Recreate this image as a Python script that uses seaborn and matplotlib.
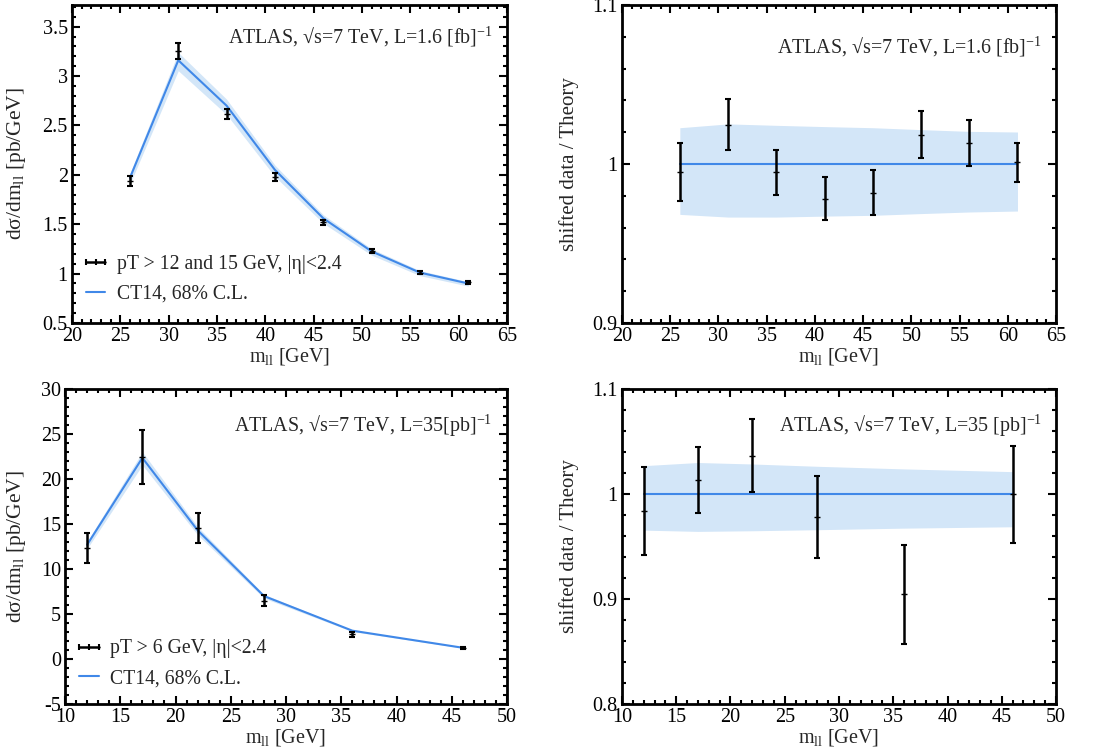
import numpy as np
import pandas as pd
import matplotlib
matplotlib.use("Agg")
import matplotlib.pyplot as plt
import seaborn as sns
from matplotlib.lines import Line2D
from matplotlib.ticker import MultipleLocator

# datos ATLAS 1.6 fb^-1 (arriba)
m_top = [26, 31, 36, 41, 46, 51, 56, 61]
xs_top = [1.94, 3.25, 2.62, 1.98, 1.52, 1.23, 1.01, 0.91]
xs_top_err = [0.05, 0.08, 0.05, 0.04, 0.025, 0.02, 0.015, 0.015]
th_top = [1.97, 3.16, 2.70, 2.05, 1.56, 1.225, 1.01, 0.90]
ratio_top = [0.9947, 1.0247, 0.9947, 0.978, 0.982, 1.0184, 1.0133, 1.001]
ratio_top_err = [0.0182, 0.016, 0.014, 0.0135, 0.0139, 0.0148, 0.0145, 0.0125]
band_top_hi = [1.0228, 1.0252, 1.0243, 1.0235, 1.0228, 1.0216, 1.0205, 1.0201]
band_top_lo = [0.9683, 0.9666, 0.9666, 0.9672, 0.9677, 0.9688, 0.9698, 0.9704]

# datos ATLAS 35 pb^-1 (abajo)
m_bot = [12, 17, 22, 28, 36, 46]
xs_bot = [12.35, 22.5, 14.55, 6.5, 2.75, 1.2]
xs_bot_err = [1.7, 3.0, 1.7, 0.65, 0.3, 0.1]
th_bot = [12.7, 22.35, 14.3, 7.0, 3.15, 1.25]
ratio_bot = [0.984, 1.0134, 1.0366, 0.978, 0.9045, 1.0]
ratio_bot_err = [0.042, 0.0318, 0.0344, 0.0393, 0.047, 0.0462]
band_bot_hi = [1.027, 1.030, 1.0286, 1.0264, 1.0239, 1.0213]
band_bot_lo = [0.9656, 0.9644, 0.965, 0.966, 0.9675, 0.9688]

txt_top = r"ATLAS, √s=7 TeV, L=1.6 [fb]$^{-1}$"
txt_bot_l = r"ATLAS, √s=7 TeV, L=35[pb]$^{-1}$"
txt_bot_r = r"ATLAS, √s=7 TeV, L=35 [pb]$^{-1}$"
xlab = r"m$_{\rm ll}$ [GeV]"
ylab_xs = r"dσ/dm$_{\rm ll}$ [pb/GeV]"
ylab_ratio = "shifted data / Theory"

azul = "#4088e8"
azul_banda = "#d3e6f8"

sns.set_theme(style="ticks")
plt.rcParams["font.family"] = ["Liberation Serif", "DejaVu Serif"]
plt.rcParams["mathtext.fontset"] = "custom"
plt.rcParams["mathtext.rm"] = "Liberation Serif"
plt.rcParams["mathtext.it"] = "Liberation Serif:italic"
plt.rcParams["axes.linewidth"] = 2.0


def estilo_ejes(ax, xlim, ylim, xmaj, xmin, ymaj, ymin):
    ax.set_xlim(*xlim)
    ax.set_ylim(*ylim)
    ax.xaxis.set_major_locator(MultipleLocator(xmaj))
    ax.xaxis.set_minor_locator(MultipleLocator(xmin))
    ax.yaxis.set_major_locator(MultipleLocator(ymaj))
    ax.yaxis.set_minor_locator(MultipleLocator(ymin))
    ax.tick_params(which="both", direction="in", top=True, right=True,
                   labelsize=14.5, colors="black", pad=3)
    ax.tick_params(which="major", length=6, width=1.5)
    ax.tick_params(which="minor", length=3, width=1.5)
    ax.yaxis.set_major_formatter(plt.FuncFormatter(lambda v, _: f"{v:g}"))
    for s in ax.spines.values():
        s.set_color("black")
        s.set_linewidth(2.0)
    ax.set_xlabel(xlab, fontsize=14.5, labelpad=0)


def panel_xs(ax, m, xs, err, th, bhi, blo, texto, etiqueta, ytxt, yleg, xlab_pos):
    df = pd.DataFrame({"m": m, "th": th})
    ax.fill_between(m, np.array(th) * np.array(blo), np.array(th) * np.array(bhi),
                    color=azul_banda, lw=0)
    sns.lineplot(data=df, x="m", y="th", ax=ax, color=azul, lw=1.5)
    ax.errorbar(m, xs, yerr=err, fmt="_", color="black", ms=4, elinewidth=1.8,
                capsize=2.5, capthick=1.5)
    ax.text(0.967, ytxt, texto, transform=ax.transAxes, ha="right", va="center",
            fontsize=14.4)
    ax.set_ylabel(ylab_xs, fontsize=15.5)
    ax.yaxis.set_label_coords(xlab_pos, 0.5)
    handles = [Line2D([], [], color="black", lw=1.8, marker="|", ms=5, mew=1.5),
               Line2D([], [], color=azul, lw=1.5)]
    ax.legend(handles, [etiqueta, "CT14, 68% C.L."], loc="lower left",
              frameon=False, fontsize=14.2, numpoints=3, handlelength=1.6,
              handletextpad=0.3, borderaxespad=0.0, labelspacing=0.55,
              bbox_to_anchor=(0.0, yleg))


def panel_ratio(ax, m, r, err, bhi, blo, texto, ytxt):
    df = pd.DataFrame({"m": m, "uno": [1.0] * len(m)})
    ax.fill_between(m, blo, bhi, color=azul_banda, lw=0)
    sns.lineplot(data=df, x="m", y="uno", ax=ax, color=azul, lw=1.5)
    ax.errorbar(m, r, yerr=err, fmt="_", color="black", ms=4, elinewidth=1.8,
                capsize=2.5, capthick=1.5)
    ax.text(0.968, ytxt, texto, transform=ax.transAxes, ha="right", va="center",
            fontsize=14.4)
    ax.set_ylabel(ylab_ratio, fontsize=15)
    ax.yaxis.set_label_coords(-0.099, 0.5)


fig = plt.figure(figsize=(11.02, 7.52), dpi=100)
ax1 = fig.add_axes([0.0653, 0.5705, 0.3947, 0.4229])
ax2 = fig.add_axes([0.5644, 0.5705, 0.3939, 0.4229])
ax3 = fig.add_axes([0.0590, 0.0638, 0.4011, 0.4189])
ax4 = fig.add_axes([0.5644, 0.0638, 0.3939, 0.4189])

panel_xs(ax1, m_top, xs_top, xs_top_err, th_top, band_top_hi, band_top_lo,
         txt_top, "pT > 12 and 15 GeV, |η|<2.4", 0.9, 0.035, -0.101)
estilo_ejes(ax1, (20, 65), (0.5, 3.72), 5, 1, 0.5, 0.1)

panel_ratio(ax2, m_top, ratio_top, ratio_top_err, band_top_hi, band_top_lo,
            txt_top, 0.868)
estilo_ejes(ax2, (20, 65), (0.9, 1.1), 5, 1, 0.1, 0.02)

panel_xs(ax3, m_bot, xs_bot, xs_bot_err, th_bot, band_bot_hi, band_bot_lo,
         txt_bot_l, "pT > 6 GeV, |η|<2.4", 0.883, 0.025, -0.084)
estilo_ejes(ax3, (10, 50), (-5, 30), 5, 1, 5, 1)

panel_ratio(ax4, m_bot, ratio_bot, ratio_bot_err, band_bot_hi, band_bot_lo,
            txt_bot_r, 0.883)
estilo_ejes(ax4, (10, 50), (0.8, 1.1), 5, 1, 0.1, 0.02)

fig.savefig("out.png", dpi=100)
